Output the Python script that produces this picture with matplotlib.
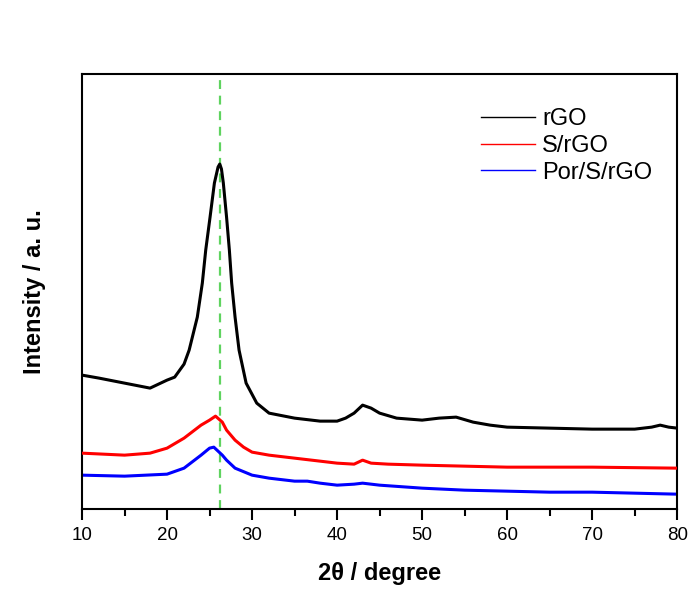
import matplotlib
matplotlib.use("Agg")
import matplotlib.pyplot as plt
from matplotlib.ticker import MultipleLocator

plt.rcParams["font.family"] = ["Liberation Sans", "DejaVu Sans"]

# XRD patterns, values (arbitrary intensity units)
rgo_2theta = [10, 12, 15, 18, 20, 20.9, 22, 22.6, 23.56, 24.15, 24.55, 25.06, 25.57,
              26.0, 26.2, 26.4, 26.62, 27.0, 27.33, 27.6, 28.0, 28.47, 29.3, 30.55,
              32, 35, 38, 40, 41, 42, 43, 44, 45, 47, 50, 52, 54, 56, 58, 60, 65,
              70, 75, 77, 78, 79, 80]
rgo_int = [134, 131, 126, 121, 129, 132, 145, 159, 192, 226, 259, 292, 326,
           342, 345, 340, 326, 292, 259, 226, 192, 159, 126, 106,
           96, 91, 88, 88, 91, 96, 104, 101, 96, 91, 89, 91, 92, 87, 84, 82, 81,
           80, 80, 82, 84, 82, 81]

srgo_2theta = [10, 15, 18, 20, 22, 24, 25, 25.7, 26.5, 27, 28, 29, 30, 32, 35, 40,
               42, 43, 44, 46, 50, 60, 70, 80]
srgo_int = [56, 54, 56, 61, 71, 84, 89, 93, 87, 79, 69, 62, 57, 54, 51, 46,
            45, 49, 46, 45, 44, 42, 42, 41]

por_2theta = [10, 15, 20, 22, 24, 25, 25.5, 26.5, 27, 28, 30, 32, 35, 36.5, 38, 40,
              42, 43, 45, 50, 55, 60, 65, 70, 75, 80]
por_int = [34, 33, 35, 41, 54, 61, 62, 54, 49, 41, 34, 31, 28, 28, 26, 24,
           25, 26, 24, 21, 19, 18, 17, 17, 16, 15]

ref_peak = 26.2

fig = plt.figure(figsize=(6.91, 6.04), dpi=100)
ax = fig.add_axes([0.1187, 0.157, 0.8613, 0.7205])

ax.axvline(ref_peak, color="#5fd35f", lw=1.6, ls=(0, (4, 3)), zorder=1)
ax.plot(rgo_2theta, rgo_int, color="black", lw=2.2, label="rGO", zorder=3)
ax.plot(srgo_2theta, srgo_int, color="#ff0000", lw=2.2, label="S/rGO", zorder=3)
ax.plot(por_2theta, por_int, color="#0000ff", lw=2.2, label="Por/S/rGO", zorder=2)

ax.set_xlim(10, 80)
ax.set_ylim(0, 435)
ax.xaxis.set_major_locator(MultipleLocator(10))
ax.xaxis.set_minor_locator(MultipleLocator(5))
ax.tick_params(axis="x", which="major", direction="out", length=8, width=1.5,
               labelsize=13.5, pad=5)
ax.tick_params(axis="x", which="minor", direction="out", length=5, width=1.5)
ax.set_yticks([])
for s in ax.spines.values():
    s.set_linewidth(1.5)

ax.set_xlabel("2θ / degree", fontsize=17, fontweight="bold", labelpad=13)
ax.set_ylabel("Intensity / a. u.", fontsize=17, fontweight="bold", labelpad=26)

leg = ax.legend(loc="upper left", bbox_to_anchor=(0.634, 0.97), frameon=False,
                fontsize=17, handlelength=2.3, handletextpad=0.3, labelspacing=0.2)
for line in leg.get_lines():
    line.set_linewidth(1.0)

fig.savefig("out.png", dpi=100)
